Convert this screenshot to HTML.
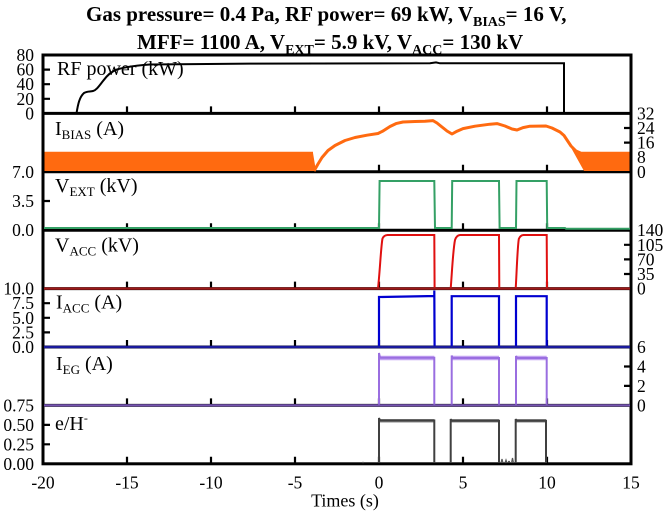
<!DOCTYPE html>
<html>
<head>
<meta charset="utf-8">
<style>
html,body{margin:0;padding:0;background:#fff;}
svg{display:block;}
text{font-family:"Liberation Serif","DejaVu Serif",serif;white-space:pre;}
</style>
</head>
<body>
<svg width="669" height="513" viewBox="0 0 669 513" xmlns="http://www.w3.org/2000/svg">
<rect width="669" height="513" fill="#fff"/>

<!-- Title -->
<g font-family="Liberation Serif, serif">
<text x="86" y="21" font-size="21" font-weight="bold" fill="#000">Gas pressure= 0.4 Pa, RF power= 69 kW, V<tspan font-size="14" dy="5">BIAS</tspan><tspan dy="-5">= 16 V,</tspan></text>
<text x="137" y="49" font-size="21" font-weight="bold" fill="#000">MFF= 1100 A, V<tspan font-size="14" dy="5">EXT</tspan><tspan dy="-5">= 5.9 kV, V</tspan><tspan font-size="14" dy="5">ACC</tspan><tspan dy="-5">= 130 kV</tspan></text>
</g>

<!-- bottom ticks of each panel -->
<g stroke="#000" stroke-width="2.2" fill="none">
<path d="M127,113.4v-7M211,113.4v-7M295,113.4v-7M379,113.4v-7M463,113.4v-7M547,113.4v-7
M127,171.8v-7M211,171.8v-7M295,171.8v-7M379,171.8v-7M463,171.8v-7M547,171.8v-7
M127,230.2v-7M211,230.2v-7M295,230.2v-7M379,230.2v-7M463,230.2v-7M547,230.2v-7
M127,288.6v-7M211,288.6v-7M295,288.6v-7M379,288.6v-7M463,288.6v-7M547,288.6v-7
M127,347v-7M211,347v-7M295,347v-7M379,347v-7M463,347v-7M547,347v-7
M127,405.4v-7M211,405.4v-7M295,405.4v-7M379,405.4v-7M463,405.4v-7M547,405.4v-7
M127,463.8v-7M211,463.8v-7M295,463.8v-7M379,463.8v-7M463,463.8v-7M547,463.8v-7"/>
<path d="M43,69.6h7M43,84.2h7M43,98.8h7M43,201h7M43,303.2h7M43,317.8h7M43,332.4h7M43,424.9h7M43,444.3h7"/>
<path d="M631,128h-7M631,142.6h-7M631,157.2h-7M631,244.8h-7M631,259.4h-7M631,274h-7M631,366.5h-7M631,385.9h-7"/>
</g>

<!-- frame -->
<g stroke="#000" stroke-width="3" fill="none">
<rect x="43" y="55" width="588" height="408.8"/>
<path d="M43,113.4H631M43,171.8H631M43,230.2H631M43,288.6H631M43,347H631M43,405.4H631"/>
</g>

<!-- RF power -->
<path d="M44,113.4 H76.5 C78,104 79.5,97 84,93 C87,91 90,91.8 93,91 C96.5,90 99,86 103,81 C107,75.5 111,71.5 117,69.5 C125,67 135,65.6 150,64.5 L250,63.6 L430,63.3 L436,62.4 L440,63.3 L564,63.3 V113.4 H630" stroke="#000" stroke-width="2" fill="none"/>

<!-- I_BIAS orange -->
<g fill="#ff6a10" stroke="none">
<path d="M44.5,153 L313,153 L316,171 L44.5,171 Z"/>
<path d="M569,144 L578,152 L629.5,152.5 L629.5,171 L584,171 Z"/>
</g>
<path d="M44.5,153.3 L313,153.3 M314,171 L318,164 L322,157.5 L328,150.5 L335,145.5 L345,140.5 L355,137.5 L367,135.2 L378,133.5 L383,131 L390,126.5 L396,123.6 L403,122 L415,121.5 L425,121.2 L433,120.6 L437,123 L442,127 L447,131 L452,134 L457,131.2 L463,128.6 L475,126.2 L490,124.2 L497,123.6 L505,126 L512,129 L517,130 L523,127.6 L530,126.2 L546,126 L552,128 L560,132 L564,135.5 L567,140 L571,146 L576,151 L581,153.3 L590,153.2 L629.5,153.2" stroke="#ff6a10" stroke-width="3" fill="none" stroke-linejoin="round"/>

<!-- V_EXT green -->
<path d="M44,228 L379,228 L379.6,181 L434.3,181 L435,228 L451.7,228 L452.2,181 L499,181 L499.6,228 L516,228 L516.5,181 L546.7,181 L547.2,228 L565,228 L566,228.8 L630,228.8" stroke="#34a065" stroke-width="2" fill="none"/>

<!-- V_ACC red -->
<path d="M378,288.6 C380,270 381,246 382.5,238.5 Q384,235.2 387.5,235 L434.3,235 L434.6,288.6 M450.7,288.6 C452,272 453,250 455,240 Q456.5,235.3 460,235 L499,235 L499.3,288.6 M515.7,288.6 C516.7,272 517.4,248 518.8,239 Q520.2,235.3 523.5,235 L546.7,235 L547,288.6" stroke="#e01010" stroke-width="2" fill="none"/>
<path d="M44,288.6 H630" stroke="#9e1a1a" stroke-width="2.4"/>

<!-- I_ACC blue -->
<path d="M379,347 V297 L434.3,296 V290.5 L434.6,347 M451.7,347 V296.2 H499 V347 M516,347 V296.2 H546.7 V347" stroke="#0000d0" stroke-width="2.2" fill="none"/>
<path d="M44,347 H630" stroke="#1a1a9c" stroke-width="2.4"/>

<!-- I_EG purple -->
<path d="M380,358 H434.3 M452.5,358 H499 M517,358 H546.7" stroke="#c4a4f2" stroke-width="4.5" fill="none"/>
<path d="M379,405.4 V353 L380,357.8 H434.3 V405.4 M451.7,405.4 V355.5 L452.5,358 H499 V405.4 M516,405.4 V356 L517,358 H546.7 V405.4" stroke="#9a6ee0" stroke-width="2" fill="none"/>
<path d="M44,405.4 H630" stroke="#7654b0" stroke-width="2.2"/>

<!-- e/H- gray -->
<path d="M380,420.7 H434.3 M451.5,420.7 H499 M516.5,420.7 H546" stroke="#8a8a8a" stroke-width="3.5" fill="none"/>
<path d="M379,463 V418 L380,420.5 H434.3 V463 M450.7,463 V419 L451.5,420.7 H499 V463 M515.7,463 V419 L516.5,420.7 H546 V463" stroke="#404040" stroke-width="2" fill="none"/>
<path d="M501,463 l1,-4 l1,4 M505,463 l1,-3 l1,3 M508,461.5 h2 M511.5,463 l1,-5 l1,5 M362,462.5 h2" stroke="#555" stroke-width="1.2" fill="none"/>

<!-- panel labels -->
<g font-size="20" fill="#000" font-family="Liberation Serif, serif">
<text x="57" y="75">RF power (kW)</text>
<text x="55" y="135">I<tspan font-size="13" dy="4">BIAS</tspan><tspan dy="-4"> (A)</tspan></text>
<text x="55" y="192">V<tspan font-size="13" dy="4">EXT</tspan><tspan dy="-4"> (kV)</tspan></text>
<text x="55" y="251.5">V<tspan font-size="13" dy="4">ACC</tspan><tspan dy="-4"> (kV)</tspan></text>
<text x="56" y="308.5">I<tspan font-size="13" dy="4">ACC</tspan><tspan dy="-4"> (A)</tspan></text>
<text x="56" y="370">I<tspan font-size="13" dy="4">EG</tspan><tspan dy="-4"> (A)</tspan></text>
<text x="55" y="430">e/H<tspan font-size="12" dy="-8">-</tspan></text>
</g>

<!-- left tick labels -->
<g font-size="17.5" fill="#000" text-anchor="end" font-family="Liberation Serif, serif">
<text x="34" y="61">80</text>
<text x="34" y="75.6">60</text>
<text x="34" y="90.2">40</text>
<text x="34" y="104.8">20</text>
<text x="34" y="119.4">0</text>
<text x="34" y="177.8">7.0</text>
<text x="34" y="207">3.5</text>
<text x="34" y="236.2">0.0</text>
<text x="34" y="294.6">10.0</text>
<text x="34" y="309.2">7.5</text>
<text x="34" y="323.8">5.0</text>
<text x="34" y="338.4">2.5</text>
<text x="34" y="353">0.0</text>
<text x="34" y="411.4">0.75</text>
<text x="34" y="430.9">0.50</text>
<text x="34" y="450.3">0.25</text>
<text x="34" y="469.8">0.00</text>
</g>

<!-- right tick labels -->
<g font-size="17.5" fill="#000" text-anchor="start" font-family="Liberation Serif, serif">
<text x="637" y="119.4">32</text>
<text x="637" y="134">24</text>
<text x="637" y="148.6">16</text>
<text x="637" y="163.2">8</text>
<text x="637" y="177.8">0</text>
<text x="637" y="236.2">140</text>
<text x="637" y="250.8">105</text>
<text x="637" y="265.4">70</text>
<text x="637" y="280">35</text>
<text x="637" y="294.6">0</text>
<text x="637" y="353">6</text>
<text x="637" y="372.5">4</text>
<text x="637" y="391.9">2</text>
<text x="637" y="411.4">0</text>
</g>

<!-- x tick labels -->
<g font-size="17.5" fill="#000" text-anchor="middle" font-family="Liberation Serif, serif">
<text x="43" y="488.5">-20</text>
<text x="127" y="488.5">-15</text>
<text x="211" y="488.5">-10</text>
<text x="295" y="488.5">-5</text>
<text x="379" y="488.5">0</text>
<text x="463" y="488.5">5</text>
<text x="547" y="488.5">10</text>
<text x="631" y="488.5">15</text>
</g>
<text x="345" y="506.5" font-size="18" text-anchor="middle" fill="#000" font-family="Liberation Serif, serif">Times (s)</text>
</svg>
</body>
</html>
